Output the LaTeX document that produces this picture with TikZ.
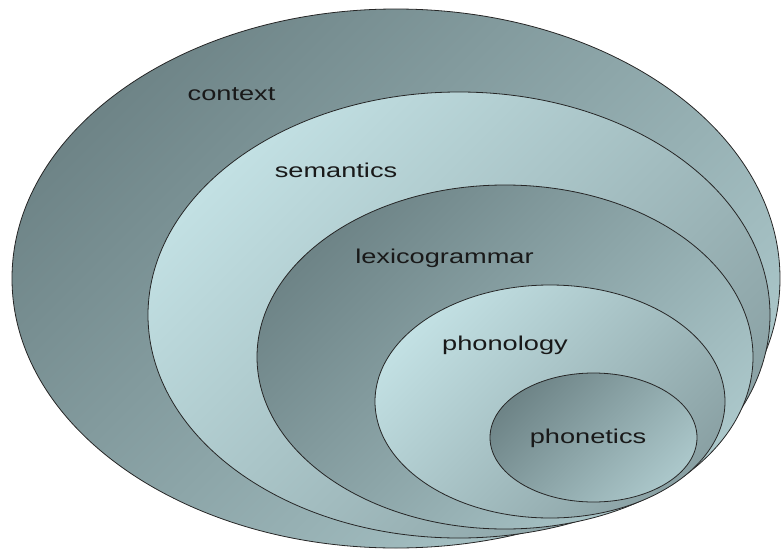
\documentclass[tikz,border=0pt]{standalone}
\usepackage{fontspec}
\setmainfont{Liberation Sans}
\definecolor{darkA}{HTML}{6E8487}
\definecolor{darkB}{HTML}{ABC7CA}
\definecolor{lightA}{HTML}{C2E0E3}
\definecolor{lightB}{HTML}{8AA1A4}
\tikzset{
  ring/.style={draw=black!85, line width=0.8pt},
  darkring/.style={ring, top color=darkA, bottom color=darkB, shading angle=45},
  lightring/.style={ring, top color=lightA, bottom color=lightB, shading angle=45},
  lab/.style={anchor=base, inner sep=0pt, font=\fontsize{20}{24}\selectfont, text=black!90}
}
\newcommand{\wide}[1]{\scalebox{1.36}[1]{#1}}
\begin{document}
\begin{tikzpicture}[x=1pt,y=-1pt]
\useasboundingbox (0,0) rectangle (781,551);
\path[darkring] (396,278.5) ellipse [x radius=384, y radius=269.5];
\path[lightring] (459,315) ellipse [x radius=311, y radius=223];
\path[darkring] (505,357) ellipse [x radius=248, y radius=172];
\path[lightring] (550,401.5) ellipse [x radius=175, y radius=116.5];
\path[darkring] (593.5,437.5) ellipse [x radius=103.5, y radius=64.5];
\node[lab] (context) at (231.5,100) {\wide{context}};
\node[lab] (semantics) at (336,177.5) {\wide{semantics}};
\node[lab] (lexico) at (444.5,263.5) {\wide{lexicogrammar}};
\node[lab] (phonology) at (505,350) {\wide{phonology}};
\node[lab] (phonetics) at (588,443) {\wide{phonetics}};
\end{tikzpicture}
\end{document}
